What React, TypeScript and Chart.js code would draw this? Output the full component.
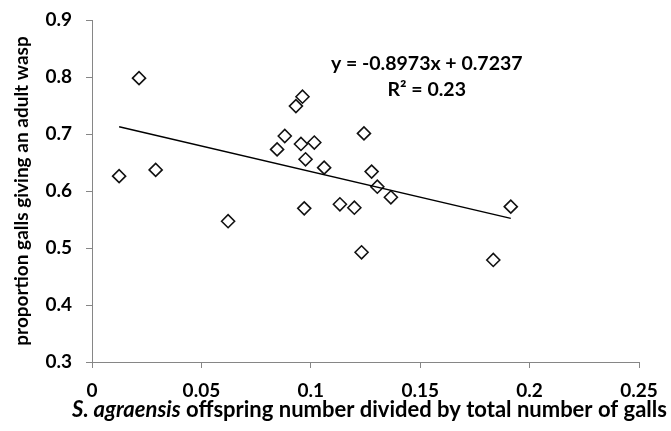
import React, { useEffect, useRef } from "react";
import { Chart, registerables } from "chart.js";

Chart.register(...registerables);

const xValues = [
  0.0124, 0.0215, 0.0291, 0.0622, 0.0846, 0.0881, 0.0932, 0.0962, 0.0955, 0.0976,
  0.097, 0.1016, 0.1061, 0.1133, 0.1199, 0.1232, 0.1243, 0.1278, 0.1304, 0.1366,
  0.1834, 0.1914,
];
const yValues = [
  0.626, 0.798, 0.637, 0.547, 0.673, 0.6965, 0.749, 0.7654, 0.6825, 0.6556,
  0.5696, 0.685, 0.641, 0.5767, 0.5707, 0.4925, 0.701, 0.634, 0.6075, 0.589,
  0.479, 0.5725,
];
const trendX = [0.0124, 0.1914];
const trendY = [0.7126, 0.5520];
const xTicks = [0, 0.05, 0.1, 0.15, 0.2, 0.25];
const yTicks = [0.3, 0.4, 0.5, 0.6, 0.7, 0.8, 0.9];
const equationText = "y = -0.8973x + 0.7237";
const r2Text = "R\u00B2 = 0.23";
const xTitleItalic = "S. agraensis";
const xTitleRest = " offspring number divided by total number of galls";
const yTitle = "proportion galls giving an adult wasp";

const FONT = "Lato, 'Open Sans', sans-serif";
const AXIS_COLOR = "#868686";

export default function App() {
  const canvasRef = useRef<HTMLCanvasElement | null>(null);

  useEffect(() => {
    const canvas = canvasRef.current;
    if (!canvas) return;

    const textPlugin = {
      id: "textPlugin",
      afterDraw(chart: any) {
        const { ctx, chartArea, scales } = chart;
        ctx.save();
        ctx.fillStyle = "#000";
        ctx.textBaseline = "middle";
        // equation
        ctx.font = `bold 19.5px ${FONT}`;
        ctx.textAlign = "center";
        const ex = scales.x.getPixelForValue(0.153);
        ctx.fillText(equationText, ex, scales.y.getPixelForValue(0.823));
        ctx.fillText(r2Text, ex, scales.y.getPixelForValue(0.777));
        // x title
        ctx.textAlign = "left";
        const size = 22;
        ctx.font = `italic bold ${size}px ${FONT}`;
        const w1 = ctx.measureText(xTitleItalic).width;
        ctx.font = `bold ${size}px ${FONT}`;
        const w2 = ctx.measureText(xTitleRest).width;
        const cx = (chartArea.left + chartArea.right) / 2 + 4;
        const start = cx - (w1 + w2) / 2;
        const ty = 410;
        ctx.font = `italic bold ${size}px ${FONT}`;
        ctx.fillText(xTitleItalic, start, ty);
        ctx.font = `bold ${size}px ${FONT}`;
        ctx.fillText(xTitleRest, start + w1, ty);
        ctx.restore();
      },
    };

    const chart = new Chart(canvas, {
      type: "scatter",
      data: {
        datasets: [
          {
            type: "line",
            data: trendX.map((x, i) => ({ x, y: trendY[i] })),
            borderColor: "#000",
            borderWidth: 1.5,
            pointRadius: 0,
            fill: false,
            order: 0,
          } as any,
          {
            data: xValues.map((x, i) => ({ x, y: yValues[i] })),
            pointStyle: "rectRot",
            pointRadius: 6.5,
            pointBackgroundColor: "#fff",
            pointBorderColor: "#111",
            pointBorderWidth: 1.6,
            order: 1,
          },
        ],
      },
      options: {
        animation: false,
        responsive: true,
        maintainAspectRatio: false,
        layout: { padding: { top: 20, right: 32, left: 0, bottom: 0 } },
        plugins: {
          legend: { display: false },
          tooltip: { enabled: false },
        },
        scales: {
          x: {
            type: "linear",
            min: 0,
            max: 0.25,
            afterBuildTicks(scale: any) {
              scale.ticks = xTicks.map((v) => ({ value: v }));
            },
            afterFit(scale: any) {
              scale.height = 69;
            },
            ticks: {
              color: "#000",
              font: { family: FONT, size: 19, weight: "bold" },
              padding: 11,
              maxRotation: 0,
              callback: (v: any) => String(+Number(v).toFixed(2)),
            },
            grid: {
              drawOnChartArea: false,
              drawTicks: true,
              tickLength: 6,
              color: AXIS_COLOR,
            },
            border: { display: true, color: AXIS_COLOR, width: 1 },
          },
          y: {
            type: "linear",
            min: 0.3,
            max: 0.9,
            afterBuildTicks(scale: any) {
              scale.ticks = yTicks.map((v) => ({ value: v }));
            },
            afterFit(scale: any) {
              scale.width = 92;
              scale.paddingTop = 0;
              scale.paddingBottom = 0;
            },
            ticks: {
              color: "#000",
              font: { family: FONT, size: 19, weight: "bold" },
              padding: 14,
              callback: (v: any) => Number(v).toFixed(1),
            },
            grid: {
              drawOnChartArea: false,
              drawTicks: true,
              tickLength: 6,
              color: AXIS_COLOR,
            },
            border: { display: true, color: AXIS_COLOR, width: 1 },
            title: {
              display: true,
              text: yTitle,
              color: "#000",
              font: { family: FONT, size: 19, weight: "bold" },
              padding: { top: 10, bottom: 0 },
            },
          },
        },
      },
      plugins: [textPlugin],
    });

    return () => chart.destroy();
  }, []);

  return (
    <div style={{ position: "fixed", left: 0, top: 0, width: 671, height: 431, background: "#fff" }}>
      <canvas ref={canvasRef} />
    </div>
  );
}
